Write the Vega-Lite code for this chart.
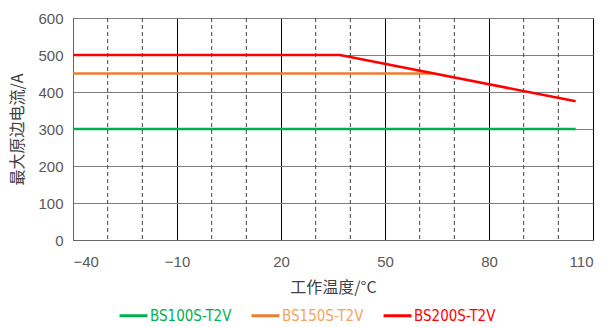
{
  "$schema": "https://vega.github.io/schema/vega-lite/v6.json",
  "width": 520,
  "height": 222,
  "autosize": {"type": "none"},
  "padding": {"left": 73, "top": 18, "right": 13, "bottom": 87},
  "background": "white",
  "config": {
    "view": {"stroke": "#666666", "strokeWidth": 1},
    "font": "Liberation Sans",
    "axis": {"labelFont": "Liberation Sans", "labelFontSize": 15, "labelColor": "#595959", "titleFont": "Noto Sans CJK SC", "titleFontSize": 16, "titleFontWeight": "normal", "titleColor": "#404040"}
  },
  "datasets": {
    "curves": [
      {"series": "BS100S-T2V", "t": -40, "current": 300},
      {"series": "BS100S-T2V", "t": 105, "current": 300},
      {"series": "BS150S-T2V", "t": -40, "current": 450},
      {"series": "BS150S-T2V", "t": 64, "current": 450},
      {"series": "BS200S-T2V", "t": -40, "current": 500},
      {"series": "BS200S-T2V", "t": 37, "current": 500},
      {"series": "BS200S-T2V", "t": 105, "current": 375}
    ],
    "dashgrid": [
      {"t": -30}, {"t": -20}, {"t": 0}, {"t": 10}, {"t": 30}, {"t": 40}, {"t": 60}, {"t": 70}, {"t": 90}, {"t": 100}
    ]
  },
  "layer": [
    {
      "data": {"name": "dashgrid"},
      "mark": {"type": "rule", "color": "#444444", "strokeDash": [4, 3], "strokeWidth": 1},
      "encoding": {
        "x": {"field": "t", "type": "quantitative", "scale": {"domain": [-40, 110], "nice": false, "zero": false}}
      }
    },
    {
      "data": {"name": "curves"},
      "mark": {"type": "line", "strokeWidth": 2.5, "clip": true},
      "encoding": {
        "x": {
          "field": "t", "type": "quantitative",
          "scale": {"domain": [-40, 110], "nice": false, "zero": false},
          "axis": {"values": [-40, -10, 20, 50, 80, 110], "title": "工作温度/°C", "grid": true, "gridColor": "#000000", "gridWidth": 1, "gridOpacity": 1, "domainColor": "#666666", "ticks": false, "labelPadding": 14, "titlePadding": 10, "labelExpr": "replace(datum.label, '-', '−')"}
        },
        "y": {
          "field": "current", "type": "quantitative",
          "scale": {"domain": [0, 600], "nice": false},
          "axis": {"values": [0, 100, 200, 300, 400, 500, 600], "title": "最大原边电流/A", "grid": true, "gridColor": "#7f7f7f", "gridWidth": 1, "gridOpacity": 1, "domainColor": "#666666", "ticks": false, "labelPadding": 10, "titlePadding": 12}
        },
        "color": {
          "field": "series", "type": "nominal",
          "scale": {"domain": ["BS100S-T2V", "BS150S-T2V", "BS200S-T2V"], "range": ["#00B050", "#ED7D31", "#FF0000"]},
          "legend": {
            "title": null, "orient": "none", "direction": "horizontal",
            "legendX": 45, "legendY": 282,
            "symbolType": "stroke", "symbolStrokeWidth": 3, "symbolSize": 780,
            "labelFont": "DejaVu Sans Condensed, Liberation Sans", "labelFontSize": 15,
            "labelColor": {"expr": "datum.value == 'BS100S-T2V' ? '#00B050' : datum.value == 'BS150S-T2V' ? '#F4A460' : '#FF0000'"},
            "labelOffset": 1, "columnPadding": 13
          }
        },
        "order": {"field": "t", "type": "quantitative"}
      }
    }
  ]
}
